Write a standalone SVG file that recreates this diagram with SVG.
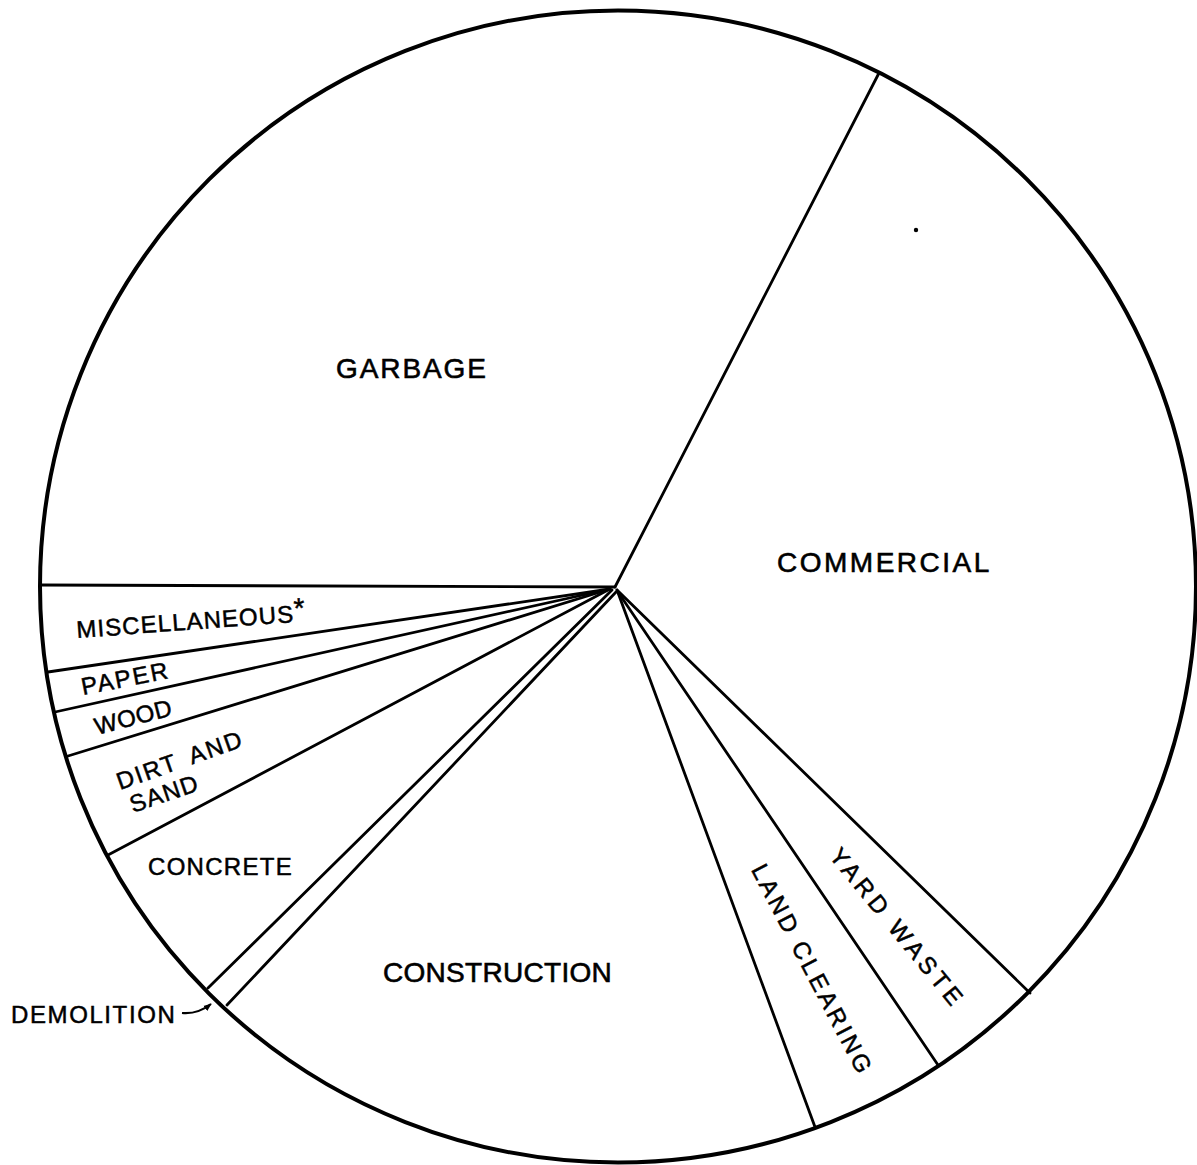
<svg xmlns="http://www.w3.org/2000/svg" width="1197" height="1165" viewBox="0 0 1197 1165">
<style>
.rim{fill:none;stroke:#000;stroke-width:4}
.div{fill:none;stroke:#000;stroke-width:2.8;stroke-linecap:round}
.big{font-family:"Liberation Sans",Arial,sans-serif;font-size:28px;fill:#000;stroke:#000;stroke-width:0.6}
.sm{font-family:"Liberation Sans",Arial,sans-serif;font-size:24px;fill:#000;stroke:#000;stroke-width:0.5}
</style>
<defs>
<marker id="ah" viewBox="0 0 10 10" refX="9" refY="5" markerWidth="8" markerHeight="8" orient="auto" markerUnits="userSpaceOnUse">
<path d="M0,1 L10,5 L0,9 Z" fill="#000"/>
</marker>
</defs>
<rect width="1197" height="1165" fill="#fff"/>
<g id="pie-rim">
<ellipse class="rim" cx="618" cy="586.5" rx="578" ry="576"/>
</g>
<g id="connectors">
<line class="div" x1="615" y1="587" x2="879" y2="73"/>
<line class="div" x1="615" y1="587" x2="40" y2="585"/>
<line class="div" x1="610" y1="589" x2="48" y2="672"/>
<line class="div" x1="610" y1="589" x2="55" y2="712"/>
<line class="div" x1="610" y1="589" x2="68" y2="756"/>
<line class="div" x1="608" y1="590" x2="108" y2="855"/>
<line class="div" x1="612" y1="590" x2="208" y2="988"/>
<line class="div" x1="616" y1="592" x2="227" y2="1005"/>
<line class="div" x1="617" y1="590" x2="815" y2="1127"/>
<line class="div" x1="618" y1="592" x2="938" y2="1065"/>
<line class="div" x1="617" y1="590" x2="1030" y2="993"/>
<path d="M182,1013 C193,1014 202,1011 211,1004" fill="none" stroke="#000" stroke-width="2.2" marker-end="url(#ah)"/>
</g>
<g id="garbage"><text class="big" x="336" y="378" letter-spacing="1.9">GARBAGE</text></g>
<g id="commercial"><text class="big" x="777" y="572" letter-spacing="2.5">COMMERCIAL</text></g>
<g id="construction"><text class="big" x="383" y="982" letter-spacing="0.3">CONSTRUCTION</text></g>
<g id="miscellaneous"><text class="sm" x="77" y="638" letter-spacing="1.1" transform="rotate(-4.2 77 638)">MISCELLANEOUS<tspan dy="-4" font-size="28">*</tspan></text></g>
<g id="paper"><text class="sm" x="83" y="695" letter-spacing="2" transform="rotate(-11 83 695)">PAPER</text></g>
<g id="wood"><text class="sm" x="97" y="735" letter-spacing="0.5" transform="rotate(-14.7 97 735)">WOOD</text></g>
<g id="dirt-and-sand">
<text class="sm" x="120" y="790" letter-spacing="2" word-spacing="6" transform="rotate(-19.5 120 790)">DIRT AND</text>
<text class="sm" x="133" y="813" letter-spacing="1.3" transform="rotate(-19 133 813)">SAND</text>
</g>
<g id="concrete"><text class="sm" x="148" y="875" letter-spacing="1.3">CONCRETE</text></g>
<g id="demolition"><text class="sm" x="11" y="1023" letter-spacing="1.6">DEMOLITION</text></g>
<g id="land-clearing"><text class="sm" x="750.7" y="869.6" letter-spacing="3.2" transform="rotate(62.4 750.7 869.6)">LAND CLEARING</text></g>
<g id="yard-waste"><text class="sm" x="828.2" y="856.2" letter-spacing="4.3" transform="rotate(50.8 828.2 856.2)">YARD WASTE</text></g>
<circle cx="916" cy="230" r="2.2" fill="#000"/>
</svg>
